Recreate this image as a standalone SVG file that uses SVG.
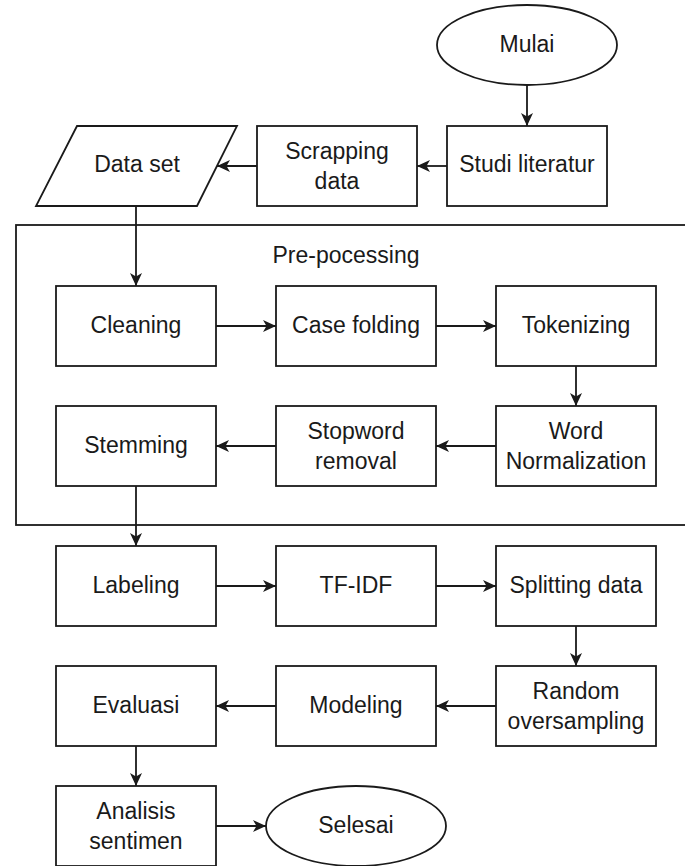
<svg xmlns="http://www.w3.org/2000/svg" width="685" height="866" viewBox="0 0 685 866">
<style>
.n{fill:#fff;stroke:#1a1a1a;stroke-width:1.8}
.c{fill:none;stroke:#1a1a1a;stroke-width:1.8}
text{font-family:"Liberation Sans",Arial,sans-serif;font-size:23px;fill:#1a1a1a;text-anchor:middle}
</style>
<defs>
<marker id="ah" markerUnits="userSpaceOnUse" markerWidth="15" markerHeight="13" refX="13" refY="6" orient="auto">
<path d="M0,0 L13,6 L0,12 L3.5,6 Z" fill="#1a1a1a"/>
</marker>
</defs>
<rect width="685" height="866" fill="#fff"/>
<g id="preprocessing">
<rect class="c" x="16" y="225" width="680" height="300"/>
<text x="346" y="263">Pre-pocessing</text>
</g>
<g id="mulai"><ellipse class="n" cx="527" cy="45" rx="90" ry="40"/><text x="527" y="52">Mulai</text></g>
<g id="studi"><rect class="n" x="447" y="126" width="160" height="80"/><text x="527" y="172">Studi literatur</text></g>
<g id="scrapping"><rect class="n" x="257" y="126" width="160" height="80"/><text x="337" y="159">Scrapping</text><text x="337" y="189">data</text></g>
<g id="dataset"><polygon class="n" points="77,126 237,126 197,206 36,206"/><text x="137" y="172">Data set</text></g>
<g id="cleaning"><rect class="n" x="56" y="286" width="160" height="80"/><text x="136" y="333">Cleaning</text></g>
<g id="casefolding"><rect class="n" x="276" y="286" width="160" height="80"/><text x="356" y="333">Case folding</text></g>
<g id="tokenizing"><rect class="n" x="496" y="286" width="160" height="80"/><text x="576" y="333">Tokenizing</text></g>
<g id="wordnorm"><rect class="n" x="496" y="406" width="160" height="80"/><text x="576" y="439">Word</text><text x="576" y="469">Normalization</text></g>
<g id="stopword"><rect class="n" x="276" y="406" width="160" height="80"/><text x="356" y="439">Stopword</text><text x="356" y="469">removal</text></g>
<g id="stemming"><rect class="n" x="56" y="406" width="160" height="80"/><text x="136" y="453">Stemming</text></g>
<g id="labeling"><rect class="n" x="56" y="546" width="160" height="80"/><text x="136" y="593">Labeling</text></g>
<g id="tfidf"><rect class="n" x="276" y="546" width="160" height="80"/><text x="356" y="593">TF-IDF</text></g>
<g id="splitting"><rect class="n" x="496" y="546" width="160" height="80"/><text x="576" y="593">Splitting data</text></g>
<g id="random"><rect class="n" x="496" y="666" width="160" height="80"/><text x="576" y="699">Random</text><text x="576" y="729">oversampling</text></g>
<g id="modeling"><rect class="n" x="276" y="666" width="160" height="80"/><text x="356" y="713">Modeling</text></g>
<g id="evaluasi"><rect class="n" x="56" y="666" width="160" height="80"/><text x="136" y="713">Evaluasi</text></g>
<g id="analisis"><rect class="n" x="56" y="786" width="160" height="80"/><text x="136" y="819">Analisis</text><text x="136" y="849">sentimen</text></g>
<g id="selesai"><ellipse class="n" cx="356" cy="826" rx="90" ry="40"/><text x="356" y="833">Selesai</text></g>
<g id="connectors">
<path class="c" marker-end="url(#ah)" d="M527,85 V126"/>
<path class="c" marker-end="url(#ah)" d="M447,166 H417"/>
<path class="c" marker-end="url(#ah)" d="M257,166 H217"/>
<path class="c" marker-end="url(#ah)" d="M136,206 V286"/>
<path class="c" marker-end="url(#ah)" d="M216,326 H276"/>
<path class="c" marker-end="url(#ah)" d="M436,326 H496"/>
<path class="c" marker-end="url(#ah)" d="M576,366 V406"/>
<path class="c" marker-end="url(#ah)" d="M496,446 H436"/>
<path class="c" marker-end="url(#ah)" d="M276,446 H216"/>
<path class="c" marker-end="url(#ah)" d="M136,486 V546"/>
<path class="c" marker-end="url(#ah)" d="M216,586 H276"/>
<path class="c" marker-end="url(#ah)" d="M436,586 H496"/>
<path class="c" marker-end="url(#ah)" d="M576,626 V666"/>
<path class="c" marker-end="url(#ah)" d="M496,706 H436"/>
<path class="c" marker-end="url(#ah)" d="M276,706 H216"/>
<path class="c" marker-end="url(#ah)" d="M136,746 V786"/>
<path class="c" marker-end="url(#ah)" d="M216,826 H266"/>
</g>
</svg>
